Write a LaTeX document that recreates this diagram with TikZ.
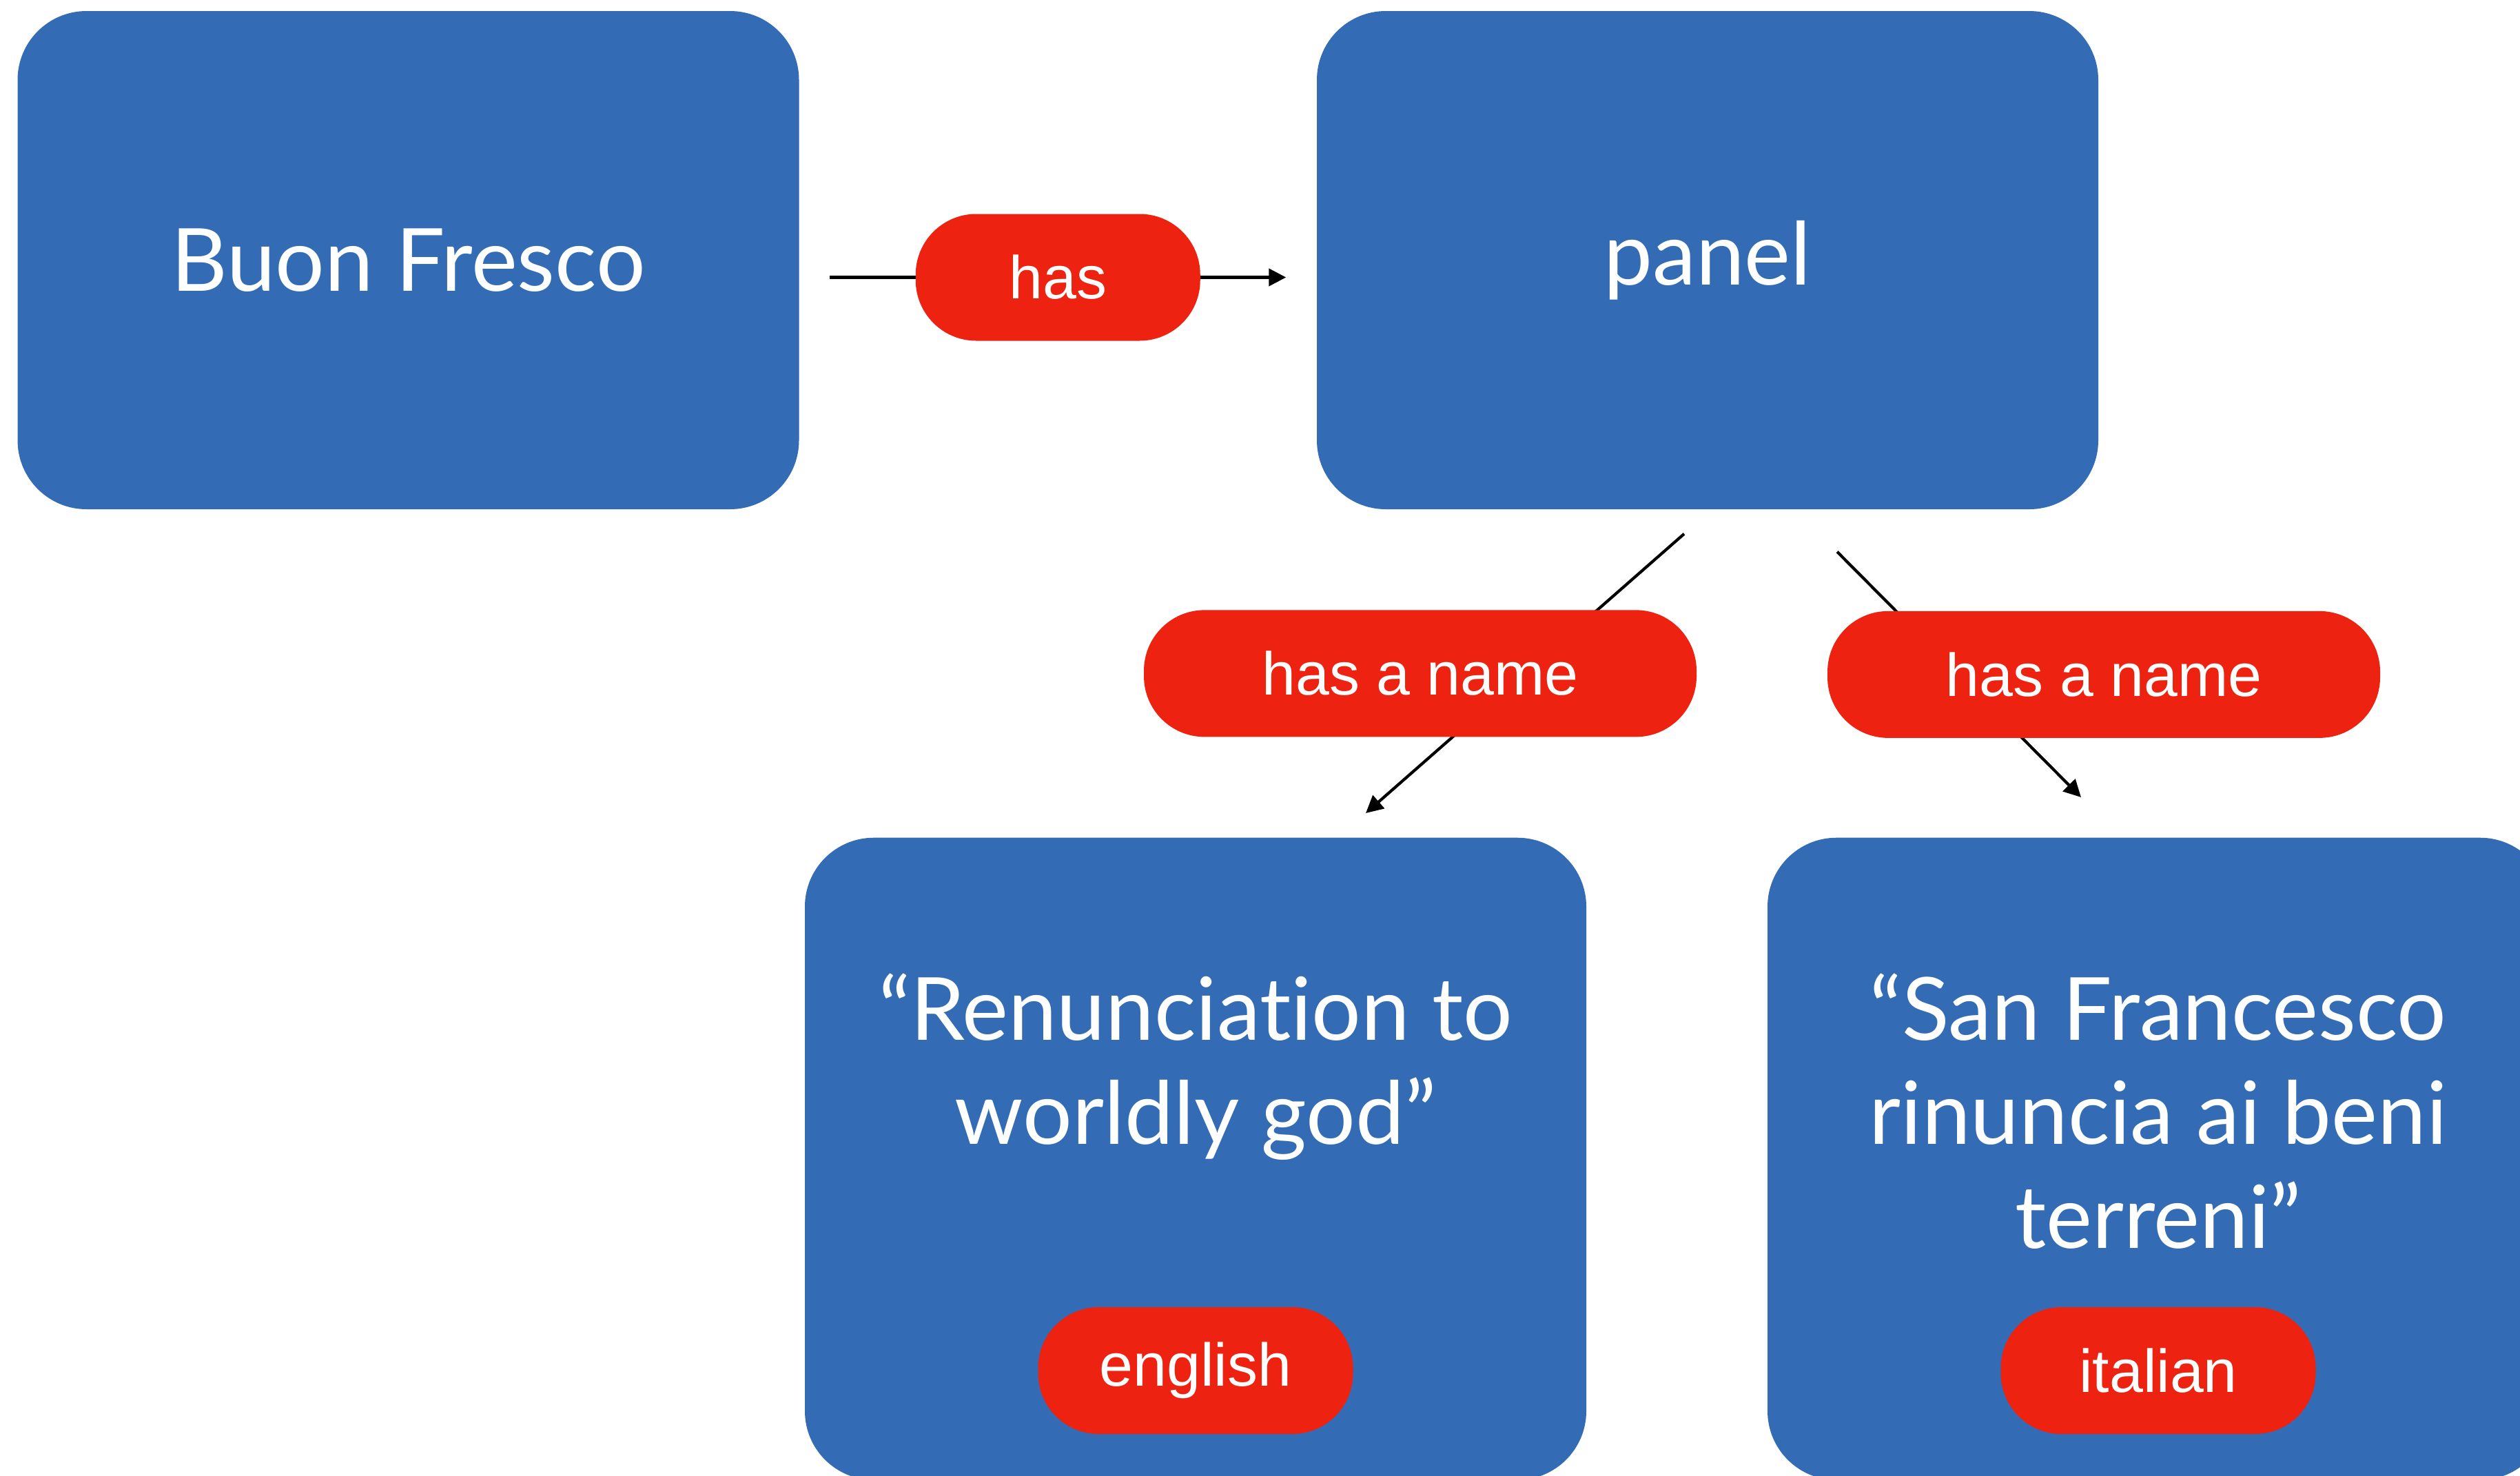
\documentclass[tikz,border=0pt]{standalone}
\usepackage{fontspec}
\setmainfont{Lato}[Ligatures={NoCommon}]
\newfontfamily\tagfont{Liberation Sans}
\usetikzlibrary{arrows.meta}
\definecolor{boxblue}{RGB}{51,108,181}
\definecolor{tagred}{RGB}{238,34,16}

\begin{document}
\begin{tikzpicture}[
    box/.style={fill=boxblue, rounded corners=1cm, minimum width=11.34cm, minimum height=7.23cm, text=white, font=\fontsize{36}{43}\selectfont},
    tall/.style={minimum height=9.32cm, anchor=north},
    boxtext/.style={text=white, font=\fontsize{36}{43}\selectfont, align=center, anchor=north},
    tag/.style={fill=tagred, rounded corners=0.88cm, minimum height=1.84cm, text=white, font=\tagfont\fontsize{25}{30}\selectfont},
    link/.style={line width=1.2pt, -{Triangle[length=0.25cm,width=0.25cm]}}
]
            \useasboundingbox (0,0) rectangle (36.57,-21.41);
            % top row
            \node[box] (fresco) at (5.925,-3.775) {Buon Fresco};
            \node[box] (panel) at (24.78,-3.775) {panel};
            % lower row, cut by the page edge
            \node[box, tall] (english) at (17.35,-12.15) {};
            \node[box, tall] (italian) at (31.32,-12.15) {};
            \node[boxtext] (entext) at ([yshift=-1.85cm]english.north) {“Renunciation to\\worldly god”};
            \node[boxtext] (ittext) at ([yshift=-1.85cm]italian.north) {“San Francesco\\rinuncia ai beni\\terreni”};
            \node[tag, minimum width=4.57cm] (entag) at ([yshift=-7.74cm]english.north) {english};
            \node[tag, minimum width=4.57cm] (ittag) at ([yshift=-7.74cm]italian.north) {italian};
            % relations
            \draw[link] ([xshift=0.44cm, yshift=-0.25cm]fresco.east) -- ([xshift=-0.44cm, yshift=-0.25cm]panel.west)
                node[tag, midway, minimum width=4.13cm] {has};
            \draw[link] ([xshift=-0.34cm, yshift=-0.35cm]panel.south) -- ([xshift=2.47cm, yshift=0.35cm]english.north)
                node[tag, midway, xshift=-1.52cm, minimum width=8.02cm] {has a name};
            \draw[link] ([xshift=1.88cm, yshift=-0.61cm]panel.south) -- ([xshift=-1.12cm, yshift=0.58cm]italian.north)
                node[tag, midway, xshift=2.1cm, minimum width=8.02cm] {has a name};
        \end{tikzpicture}
\end{document}
